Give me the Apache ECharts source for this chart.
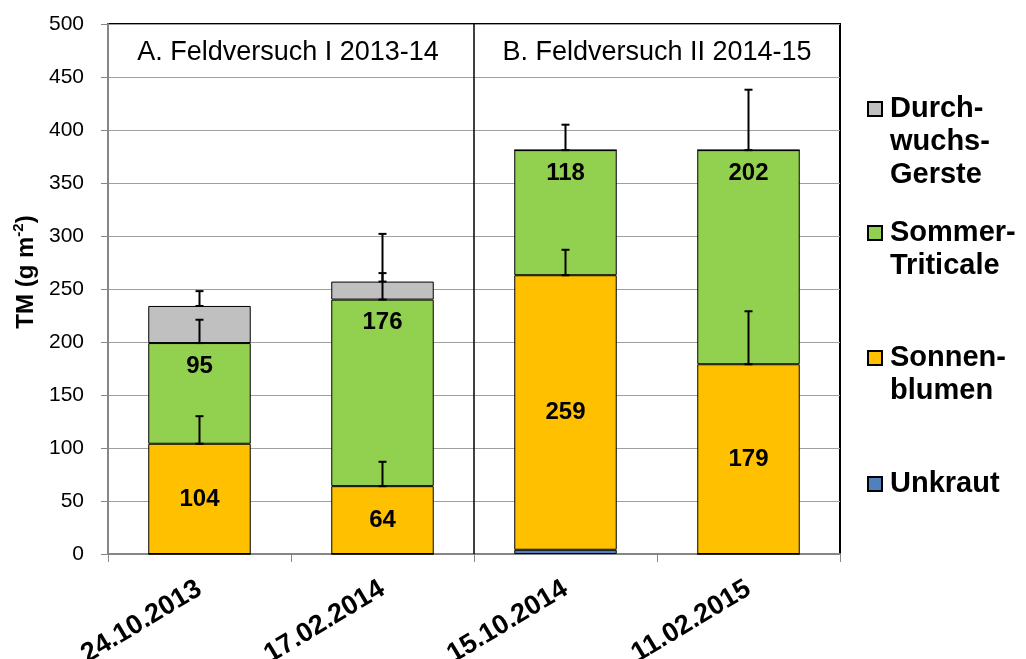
<!DOCTYPE html>
<html>
<head>
<meta charset="utf-8">
<script src="https://cdn.jsdelivr.net/npm/echarts@6/dist/echarts.min.js"></script>
<style>
  html, body { margin: 0; padding: 0; background: #fff; }
  #chart { width: 1026px; height: 659px; }
</style>
</head>
<body>
<div id="chart"></div>
<script>
// Probenahmetermine
var categories = ['24.10.2013', '17.02.2014', '15.10.2014', '11.02.2015'];

// Trockenmasse (g m-2) je Fraktion
var unkraut = [0, 0, 4, 0];
var sonnenblumen = [104, 64, 259, 179];
var triticale = [95, 176, 118, 202];
var gerste = [35, 17, 0, 0];

// Standardabweichungen (nur nach oben)
var sdSonnenblumen = [26, 23, 24, 50];
var sdTriticale = [22, 25, 24, 57];
var sdGerste = [14, 45, 0, 0];

var panelTitles = ['A. Feldversuch I 2013-14', 'B. Feldversuch II 2014-15'];

var FONT = '"Liberation Sans", Arial, sans-serif';

// Fehlerbalken: [Kategorie, Basis (kumuliert), Abweichung]
var errData = [];
categories.forEach(function (c, i) {
  var s1 = unkraut[i] + sonnenblumen[i];
  var s2 = s1 + triticale[i];
  var s3 = s2 + gerste[i];
  errData.push([i, s1, sdSonnenblumen[i]]);
  errData.push([i, s2, sdTriticale[i]]);
  if (gerste[i] > 0) errData.push([i, s3, sdGerste[i]]);
});

var chart = echarts.init(document.getElementById('chart'));

/* Legende: Symbol auf Höhe der ersten Zeile */
function legendBox(name, text, blank, centerY) {
  var lh = 33;
  var n = text.split('\n').length + blank;
  return {
    data: [name],
    orient: 'vertical',
    left: 867,
    top: centerY - n * lh / 2,
    padding: 0,
    icon: 'rect',
    itemWidth: 14,
    itemHeight: 14,
    itemGap: 0,
    selectedMode: false,
    formatter: function () {
      return new Array(blank + 1).join('\n') + text;
    },
    textStyle: { fontFamily: FONT, fontSize: 29, fontWeight: 'bold', color: '#000', lineHeight: lh, padding: [0, 0, 0, 3] }
  };
}

function barSeries(name, data, color, label) {
  return {
    name: name,
    type: 'bar',
    stack: 'tm',
    barWidth: '56%',
    data: data,
    itemStyle: { color: color, borderColor: '#000', borderWidth: 1 },
    label: label || { show: false },
    emphasis: { disabled: true },
    z: 2
  };
}

var option = {
  animation: false,
  title: [
    {
      text: panelTitles[0], left: 288, top: 39, padding: 0, textAlign: 'center',
      textStyle: { fontFamily: FONT, fontSize: 27, fontWeight: 'normal', color: '#000' }
    },
    {
      text: panelTitles[1], left: 657, top: 39, padding: 0, textAlign: 'center',
      textStyle: { fontFamily: FONT, fontSize: 27, fontWeight: 'normal', color: '#000' }
    }
  ],
  legend: [
    legendBox('Durchwuchs-Gerste', 'Durch-\nwuchs-\nGerste', 2, 109),
    legendBox('Sommer-Triticale', 'Sommer-\nTriticale', 1, 233),
    legendBox('Sonnenblumen', 'Sonnen-\nblumen', 1, 358),
    legendBox('Unkraut', 'Unkraut', 0, 484)
  ],
  grid: {
    left: 108, right: 186, top: 24, bottom: 105,
    outerBoundsMode: 'none',
    containLabel: false,
    show: true, borderColor: '#000', borderWidth: 2
  },
  xAxis: {
    type: 'category',
    data: categories,
    axisLine: { lineStyle: { color: '#868686', width: 2 } },
    axisTick: { show: true, interval: 0, length: 8, lineStyle: { color: '#868686', width: 1 } },
    axisLabel: {
      interval: 0, rotate: 31, margin: 33,
      fontFamily: FONT, fontSize: 27, fontWeight: 'bold', color: '#000'
    }
  },
  yAxis: {
    type: 'value',
    min: 0, max: 500, interval: 50,
    name: '{a|TM (g m}{s|-2}{a|)}',
    nameLocation: 'middle',
    nameGap: 66,
    nameTextStyle: {
      padding: [0, 0, 0, 34],
      rich: {
        a: { fontFamily: FONT, fontSize: 24, fontWeight: 'bold', color: '#000', lineHeight: 30 },
        s: { fontFamily: FONT, fontSize: 15, fontWeight: 'bold', color: '#000', lineHeight: 15, verticalAlign: 'top' }
      }
    },
    axisLine: { show: true, lineStyle: { color: '#868686', width: 2 } },
    axisTick: { show: true, length: 7, lineStyle: { color: '#868686' } },
    axisLabel: { margin: 24, fontFamily: FONT, fontSize: 21, color: '#000' },
    splitLine: { lineStyle: { color: '#A0A0A0', width: 1 } }
  },
  series: [
    barSeries('Unkraut', unkraut, '#4F81BD'),
    barSeries('Sonnenblumen', sonnenblumen, '#FFC000', {
      show: true, position: 'inside',
      fontFamily: FONT, fontSize: 24, fontWeight: 'bold', color: '#000'
    }),
    barSeries('Sommer-Triticale', triticale, '#92D050', {
      show: true, position: 'insideTop', distance: 11,
      fontFamily: FONT, fontSize: 24, fontWeight: 'bold', color: '#000'
    }),
    barSeries('Durchwuchs-Gerste', gerste, '#C0C0C0'),
    {
      // Fehlerbalken
      type: 'custom',
      name: 'sd',
      data: errData,
      z: 5,
      silent: true,
      renderItem: function (params, api) {
        var base = api.coord([api.value(0), api.value(1)]);
        var top = api.coord([api.value(0), api.value(1) + api.value(2)]);
        var x = base[0], cap = 4;
        var st = { stroke: '#000', lineWidth: 2 };
        return {
          type: 'group',
          children: [
            { type: 'line', shape: { x1: x, y1: base[1], x2: x, y2: top[1] }, style: st },
            { type: 'line', shape: { x1: x - cap, y1: top[1], x2: x + cap, y2: top[1] }, style: st },
            { type: 'line', shape: { x1: x - cap, y1: base[1], x2: x + cap, y2: base[1] }, style: st }
          ]
        };
      }
    },
    {
      // Trennlinie zwischen den Feldversuchen
      type: 'custom',
      name: 'divider',
      data: [[1, 2]],
      z: 4,
      silent: true,
      clip: false,
      renderItem: function (params, api) {
        var a = api.coord([api.value(0), 500]);
        var b = api.coord([api.value(1), 0]);
        var x = (a[0] + b[0]) / 2;
        return {
          type: 'line',
          shape: { x1: x, y1: a[1], x2: x, y2: b[1] },
          style: { stroke: '#000', lineWidth: 1.5 }
        };
      }
    }
  ]
};

chart.setOption(option);
window.addEventListener('resize', function () { chart.resize(); });
</script>
</body>
</html>
